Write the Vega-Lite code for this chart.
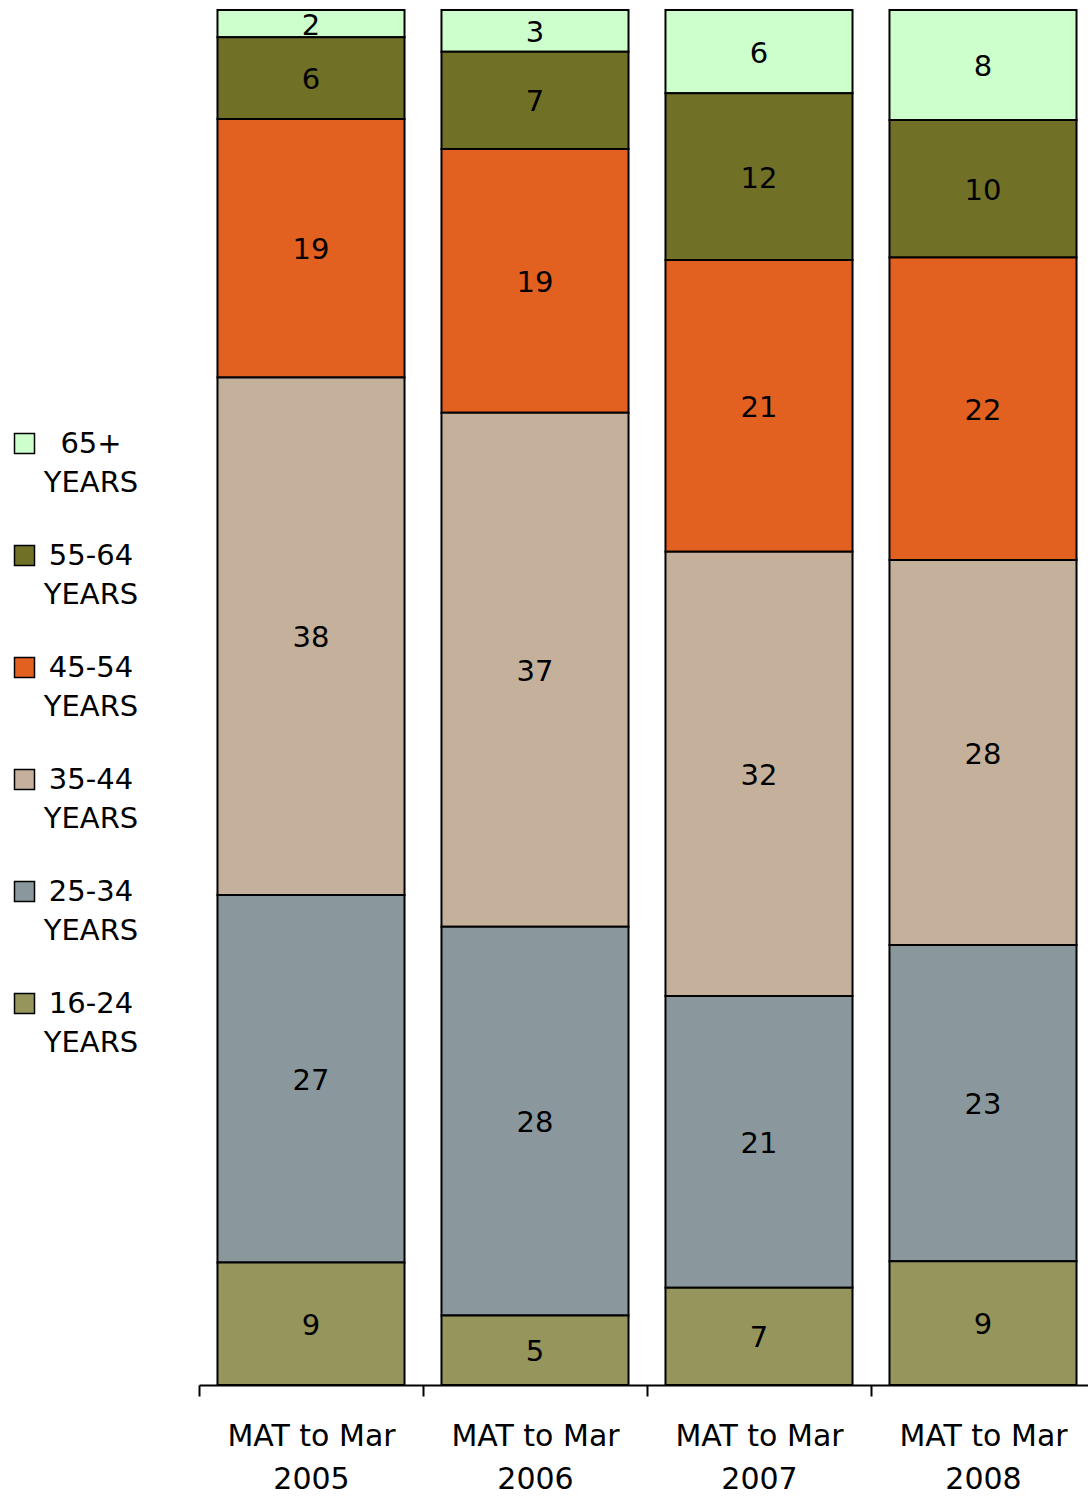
{
  "$schema": "https://vega.github.io/schema/vega-lite/v6.json",
  "width": 896,
  "height": 1375,
  "autosize": {"type": "none"},
  "padding": {"left": 199, "top": 10, "right": 0, "bottom": 112},
  "background": "white",
  "config": {
    "view": {"stroke": null},
    "font": "DejaVu Sans",
    "style": {"guide-label": {"lineHeight": 39}}
  },
  "data": {
    "values": [
      {"period": "MAT to Mar 2005", "age": "65+ YEARS", "value": 2},
      {"period": "MAT to Mar 2005", "age": "55-64 YEARS", "value": 6},
      {"period": "MAT to Mar 2005", "age": "45-54 YEARS", "value": 19},
      {"period": "MAT to Mar 2005", "age": "35-44 YEARS", "value": 38},
      {"period": "MAT to Mar 2005", "age": "25-34 YEARS", "value": 27},
      {"period": "MAT to Mar 2005", "age": "16-24 YEARS", "value": 9},
      {"period": "MAT to Mar 2006", "age": "65+ YEARS", "value": 3},
      {"period": "MAT to Mar 2006", "age": "55-64 YEARS", "value": 7},
      {"period": "MAT to Mar 2006", "age": "45-54 YEARS", "value": 19},
      {"period": "MAT to Mar 2006", "age": "35-44 YEARS", "value": 37},
      {"period": "MAT to Mar 2006", "age": "25-34 YEARS", "value": 28},
      {"period": "MAT to Mar 2006", "age": "16-24 YEARS", "value": 5},
      {"period": "MAT to Mar 2007", "age": "65+ YEARS", "value": 6},
      {"period": "MAT to Mar 2007", "age": "55-64 YEARS", "value": 12},
      {"period": "MAT to Mar 2007", "age": "45-54 YEARS", "value": 21},
      {"period": "MAT to Mar 2007", "age": "35-44 YEARS", "value": 32},
      {"period": "MAT to Mar 2007", "age": "25-34 YEARS", "value": 21},
      {"period": "MAT to Mar 2007", "age": "16-24 YEARS", "value": 7},
      {"period": "MAT to Mar 2008", "age": "65+ YEARS", "value": 8},
      {"period": "MAT to Mar 2008", "age": "55-64 YEARS", "value": 10},
      {"period": "MAT to Mar 2008", "age": "45-54 YEARS", "value": 22},
      {"period": "MAT to Mar 2008", "age": "35-44 YEARS", "value": 28},
      {"period": "MAT to Mar 2008", "age": "25-34 YEARS", "value": 23},
      {"period": "MAT to Mar 2008", "age": "16-24 YEARS", "value": 9}
    ]
  },
  "encoding": {
    "x": {
      "field": "period",
      "type": "nominal",
      "sort": null,
      "scale": {"paddingInner": 0.165, "paddingOuter": 0.0825},
      "axis": {
        "title": null,
        "labelAngle": 0,
        "labelFont": "DejaVu Sans",
        "labelFontSize": 30,
        "labelColor": "black",
        "labelExpr": "[slice(datum.label, 0, 10), slice(datum.label, 11)]",
        "labelLineHeight": 43,
        "labelBaseline": "top",
        "labelPadding": 25,
        "tickOffset": -112,
        "labelOffset": 112,
        "tickSize": 11,
        "tickColor": "black",
        "tickWidth": 2,
        "domainColor": "black",
        "domainWidth": 2,
        "grid": false
      }
    },
    "order": {"field": "age", "type": "ordinal", "sort": "ascending"}
  },
  "layer": [
    {
      "mark": {"type": "bar", "stroke": "black", "strokeWidth": 2},
      "encoding": {
        "y": {"field": "value", "type": "quantitative", "stack": "normalize", "axis": null},
        "color": {
          "field": "age",
          "type": "nominal",
          "scale": {
            "domain": ["65+ YEARS", "55-64 YEARS", "45-54 YEARS", "35-44 YEARS", "25-34 YEARS", "16-24 YEARS"],
            "range": ["#CCFFCC", "#717027", "#E26120", "#C4B09B", "#8A989D", "#96955B"]
          },
          "legend": {
            "orient": "none",
            "legendX": -189,
            "legendY": 419,
            "title": null,
            "symbolType": "square",
            "symbolSize": 400,
            "symbolStrokeColor": "black",
            "symbolStrokeWidth": 1.5,
            "labelFont": "DejaVu Sans",
            "labelFontSize": 29,
            "labelColor": "black",
            "labelExpr": "split(datum.label, ' ')",
            "labelAlign": "center",
            "labelOffset": 52,
            "rowPadding": 43,
            "labelLimit": 300
          }
        }
      }
    },
    {
      "mark": {"type": "text", "fontSize": 29, "color": "black", "baseline": "middle", "font": "DejaVu Sans", "dy": 2},
      "encoding": {
        "y": {"field": "value", "type": "quantitative", "stack": "normalize", "bandPosition": 0.5},
        "detail": {"field": "age"},
        "text": {"field": "value", "type": "quantitative"}
      }
    }
  ]
}
